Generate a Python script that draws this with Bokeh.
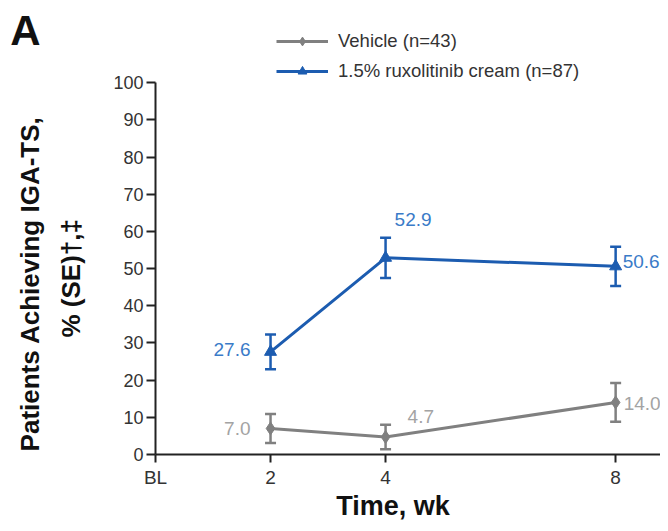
from bokeh.plotting import figure
from bokeh.models import (ColumnDataSource, Whisker, TeeHead, FixedTicker, Legend,
                          LegendItem, Label, Range1d, LinearAxis)
from bokeh.embed import file_html
from bokeh.resources import INLINE

# ---- data ----
weeks = [2, 4, 8]
vehicle = [7.0, 4.7, 14.0]
vehicle_se = [3.9, 3.3, 5.2]
rux = [27.6, 52.9, 50.6]
rux_se = [4.7, 5.4, 5.3]
x_ticks = [0, 2, 4, 8]
x_tick_labels = ["BL", "2", "4", "8"]
y_ticks = list(range(0, 101, 10))
series_names = ["Vehicle (n=43)", "1.5% ruxolitinib cream (n=87)"]
y_title = ["Patients Achieving IGA-TS,", "% (SE)\u2020,\u2021"]
x_title = "Time, wk"
panel_letter = "A"

FONT = "Liberation Sans"
GRAY = "#808080"
GRAY_TXT = "#a3a3a3"
BLUE = "#1c5cb0"
BLUE_TXT = "#3a7bc8"
AX = "#222222"
TXT = "#111111"

p = figure(width=660, height=523, output_backend="svg", toolbar_location=None,
           x_range=Range1d(0, 8.78), y_range=Range1d(0, 122.1),
           min_border_left=155, min_border_right=0, min_border_top=0,
           min_border_bottom=69)
p.outline_line_color = None
p.grid.visible = False

# main axes
p.xaxis.ticker = FixedTicker(ticks=x_ticks)
p.xaxis.major_label_overrides = {t: l for t, l in zip(x_ticks, x_tick_labels)}
p.yaxis.ticker = FixedTicker(ticks=y_ticks)
p.yaxis.bounds = (y_ticks[0], y_ticks[-1])
for ax in (p.xaxis[0], p.yaxis[0]):
    ax.axis_line_color = AX
    ax.axis_line_width = 2
    ax.major_tick_line_color = AX
    ax.major_tick_line_width = 2
    ax.major_tick_in = 0
    ax.minor_tick_line_color = None
    ax.major_label_text_font = FONT
    ax.major_label_text_color = "#333333"
p.xaxis.major_label_text_font_size = "19px"
p.yaxis.major_label_text_font_size = "18px"
p.xaxis.major_tick_out = 8
p.xaxis.major_label_standoff = 4
p.yaxis.major_tick_out = 9
p.yaxis.major_label_standoff = 3


def text_axis(loc, tick, label, size, standoff, orientation="horizontal"):
    """Label-only axis: a single tick label used as a title."""
    a = LinearAxis(ticker=FixedTicker(ticks=[tick]),
                   major_label_overrides={tick: label},
                   major_label_orientation=orientation,
                   major_label_standoff=standoff, major_tick_out=0, major_tick_in=0,
                   axis_line_color=None, major_tick_line_color=None,
                   minor_tick_line_color=None, major_label_text_font=FONT,
                   major_label_text_font_style="bold",
                   major_label_text_font_size=size, major_label_text_color=TXT)
    p.add_layout(a, loc)
    return a


y_mid = (y_ticks[0] + y_ticks[-1]) / 2
x_mid = (x_ticks[0] + x_ticks[-1]) / 2 + 0.13
text_axis("left", y_mid - 2.6, y_title[1], "26px", 24, "vertical")
text_axis("left", y_mid - 4.1, y_title[0], "26px", 8, "vertical")
text_axis("left", 114, panel_letter, "42px", -28)
text_axis("below", x_mid, x_title, "27px", 0)

src_v = ColumnDataSource(dict(x=weeks, y=vehicle,
                              lo=[v - s for v, s in zip(vehicle, vehicle_se)],
                              hi=[v + s for v, s in zip(vehicle, vehicle_se)],
                              lab=[f"{v:.1f}" for v in vehicle]))
src_r = ColumnDataSource(dict(x=weeks, y=rux,
                              lo=[v - s for v, s in zip(rux, rux_se)],
                              hi=[v + s for v, s in zip(rux, rux_se)],
                              lab=[f"{v:.1f}" for v in rux]))

for src, col in ((src_v, GRAY), (src_r, BLUE)):
    w = Whisker(source=src, base="x", lower="lo", upper="hi", line_color=col,
                line_width=2.5,
                upper_head=TeeHead(size=11, line_color=col, line_width=2.5),
                lower_head=TeeHead(size=11, line_color=col, line_width=2.5))
    p.add_layout(w)

lv = p.line("x", "y", source=src_v, line_color=GRAY, line_width=3)
mv = p.scatter("x", "y", source=src_v, marker="diamond", size=13, color=GRAY)
lr = p.line("x", "y", source=src_r, line_color=BLUE, line_width=3)
mr = p.scatter("x", "y", source=src_r, marker="triangle", size=12, color=BLUE)

# value labels (pixel offsets relative to the points: dx, dy-down, align)
v_off = [(-20, 0, "right"), (22, -21, "left"), (8, 1, "left")]
r_off = [(-20, -2, "right"), (9, -38, "left"), (7, -5, "left")]
for src, offs, col in ((src_v, v_off, GRAY_TXT), (src_r, r_off, BLUE_TXT)):
    d = src.data
    for i, (dx, dy, al) in enumerate(offs):
        p.add_layout(Label(x=d["x"][i], y=d["y"][i], text=d["lab"][i],
                           x_offset=dx, y_offset=-dy, text_align=al,
                           text_baseline="middle", text_font=FONT,
                           text_font_size="19px", text_color=col))

legend = Legend(items=[LegendItem(label=series_names[0], renderers=[lv, mv]),
                       LegendItem(label=series_names[1], renderers=[lr, mr])],
                location=(121, 372), orientation="vertical",
                label_text_font=FONT, label_text_font_size="18.5px",
                label_text_color="#333333", glyph_width=52, glyph_height=22,
                label_height=22, spacing=8, padding=0, margin=0,
                label_standoff=10, border_line_color=None,
                background_fill_alpha=0)
p.add_layout(legend)

open("out.html", "w").write(file_html(p, INLINE))
